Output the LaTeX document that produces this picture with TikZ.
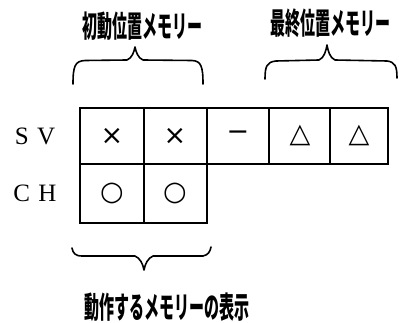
\documentclass[tikz,border=0pt]{standalone}
\usepackage{fontspec}
\newfontfamily\jp{Noto Sans CJK JP}
\newfontfamily\sym{DejaVu Sans}
\newfontfamily\rl{Liberation Serif}
\begin{document}
\begin{tikzpicture}[x=1pt,y=-1pt,
  grid/.style={line width=1.8pt},
  brace/.style={line width=1.6pt,line cap=round,line join=round},
  jlabel/.style={inner sep=0pt,font=\jp\bfseries\fontsize{25}{25}\selectfont},
  rowlab/.style={inner sep=0pt,font=\rl\fontsize{25}{25}\selectfont},
  symb/.style={inner sep=0pt,font=\sym\fontsize{27}{27}\selectfont}]
\useasboundingbox (0,0) rectangle (399,323);
% grid
\coordinate (g00) at (80,108);
\coordinate (g10) at (388,108);
\coordinate (g01) at (80,164);
\coordinate (g11) at (388,164);
\coordinate (g02) at (80,223);
\coordinate (g12) at (207,223);
\draw[grid] (g00) -- (g10) -- (g11) -- (g01) -- cycle;
\draw[grid] (g01) -- (g02) -- (g12) -- (207,164);
\draw[grid] (144,108) -- (144,223);
\draw[grid] (207,108) -- (207,164);
\draw[grid] (269,108) -- (269,164);
\draw[grid] (330,108) -- (330,164);
% row labels
\node[rowlab] (sv) at (35,136) {S\,\,V};
\node[rowlab] (ch) at (35,193) {C\,\,H};
% symbols
\node[symb] (c1) at (112,136) {×};
\node[symb] (c2) at (175,136) {×};
\node[symb] (c3) at (238,136) {−};
\node[symb] (c4) at (300,135) {△};
\node[symb] (c5) at (359,135) {△};
\node[symb] (d1) at (112,193) {○};
\node[symb] (d2) at (175,193) {○};
% top labels
\node[jlabel] (t1) at (143,26) {\scalebox{0.6}[1.2]{初動位置メモリー}};
\node[jlabel] (t2) at (330,23) {\scalebox{0.6}[1.2]{最終位置メモリー}};
\node[jlabel] (b1) at (167,307) {\scalebox{0.6}[1.2]{動作するメモリーの表示}};
% braces
\draw[brace] (73,84) .. controls (73,66) and (75,61) .. (85,60.5) -- (127,60)
  .. controls (132,58) and (134,52) .. (135,47)
  .. controls (136,52) and (138,58) .. (143,60) -- (192,60.5)
  .. controls (201,61) and (203,66) .. (203,84);
\draw[brace] (265,79) .. controls (265,66) and (267,62) .. (276,61) -- (319,60)
  .. controls (324,58) and (326,51) .. (327,45)
  .. controls (328,51) and (330,58) .. (335,60) -- (387,61)
  .. controls (395,62) and (397,66) .. (397,78);
\draw[brace] (72,248) .. controls (73,253) and (75,256) .. (82,256) -- (135,256)
  .. controls (140,258) and (143,264) .. (144,270)
  .. controls (145,264) and (148,258) .. (153,256) -- (203,256)
  .. controls (208,255) and (210,252) .. (211,247);
\end{tikzpicture}
\end{document}
